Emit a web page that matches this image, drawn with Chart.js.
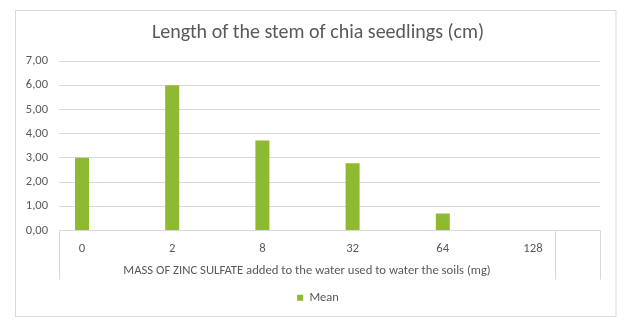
<!DOCTYPE html>
<html>
<head>
<meta charset="utf-8">
<script src="https://cdn.jsdelivr.net/npm/chart.js@4/dist/chart.umd.min.js"></script>
<style>
  html, body { margin: 0; padding: 0; background: #ffffff; }
  #wrap { width: 630px; height: 330px; position: relative; }
</style>
</head>
<body>
<div id="wrap"><canvas id="c" width="630" height="330"></canvas></div>
<script>
const categories = ["0", "2", "8", "32", "64", "128"];
const meanValues = [3.00, 6.00, 3.72, 2.78, 0.70, 0.00];
const seriesName = "Mean";
const yTicks = [0, 1, 2, 3, 4, 5, 6, 7];
const chartTitle = "Length of the stem of chia seedlings (cm)";
const xAxisTitle = "MASS OF ZINC SULFATE added to the water used to water the soils (mg)";

const FONT = "Carlito, Lato, 'Open Sans', sans-serif";
const TEXT = "#595959";
const GRID = "#d9d9d9";

const framePlugin = {
  id: "frame",
  beforeDraw(chart) {
    const ctx = chart.ctx;
    ctx.save();
    ctx.fillStyle = "#ffffff";
    ctx.fillRect(0, 0, chart.width, chart.height);
    ctx.strokeStyle = GRID;
    ctx.lineWidth = 1;
    ctx.strokeRect(15.5, 10.5, 600.5, 306);
    ctx.restore();
  },
  afterDraw(chart) {
    const ctx = chart.ctx;
    const a = chart.chartArea;
    const outer = chart.scales.y2.left + 45;
    ctx.save();
    ctx.strokeStyle = GRID;
    ctx.lineWidth = 1;
    [a.left, a.right, outer].forEach(px => {
      const x = Math.round(px) + 0.5;
      ctx.beginPath();
      ctx.moveTo(x, a.bottom);
      ctx.lineTo(x, a.bottom + 49);
      ctx.stroke();
    });
    ctx.restore();
  }
};

new Chart(document.getElementById("c"), {
  type: "bar",
  data: {
    datasets: [{
      label: seriesName,
      data: meanValues.map((v, i) => ({ x: i, y: v })),
      backgroundColor: "#8db933",
      borderWidth: 0,
      inflateAmount: 0,
      barThickness: 14,
      yAxisID: "y",
      xAxisID: "x"
    }]
  },
  options: {
    responsive: false,
    animation: false,
    devicePixelRatio: 1,
    layout: { padding: { left: 15, right: 9, top: 10, bottom: 16 } },
    plugins: {
      title: {
        display: true,
        text: chartTitle,
        color: TEXT,
        font: { family: FONT, size: 20, weight: "300" },
        padding: { top: 11, bottom: 16 }
      },
      legend: {
        position: "bottom",
        labels: {
          boxWidth: 6,
          boxHeight: 6,
          color: TEXT,
          font: { family: FONT, size: 12.5 },
          padding: 8
        }
      },
      tooltip: { enabled: false }
    },
    scales: {
      x: {
        type: "linear",
        position: "bottom",
        offset: false,
        min: -0.255,
        max: 5.244,
        grid: { display: false },
        border: { display: false },
        afterBuildTicks: s => { s.ticks = categories.map((c, i) => ({ value: i })); },
        afterFit: s => { s.height = 53; },
        ticks: {
          autoSkip: false,
          maxRotation: 0,
          padding: 3,
          color: TEXT,
          font: { family: FONT, size: 12.7 },
          callback: v => categories[v]
        },
        title: {
          display: true,
          text: xAxisTitle,
          color: TEXT,
          font: { family: FONT, size: 12.7 },
          padding: { top: 0, bottom: 5.5 }
        }
      },
      y: {
        position: "left",
        min: 0,
        max: 7,
        afterBuildTicks: s => { s.ticks = yTicks.map(v => ({ value: v })); },
        afterFit: s => { s.width = 44; },
        grid: { color: GRID, drawTicks: false, lineWidth: 1 },
        border: { display: false },
        ticks: {
          padding: 11,
          color: TEXT,
          font: { family: FONT, size: 12.5 },
          callback: v => v.toFixed(2).replace(".", ",")
        }
      },
      y2: {
        position: "right",
        min: 0,
        max: 7,
        afterBuildTicks: s => { s.ticks = yTicks.map(v => ({ value: v })); },
        afterFit: s => { s.width = 66; },
        grid: { color: GRID, drawOnChartArea: false, drawTicks: true, tickLength: 45 },
        border: { display: false },
        ticks: { display: false }
      }
    }
  },
  plugins: [framePlugin]
});
</script>
</body>
</html>
